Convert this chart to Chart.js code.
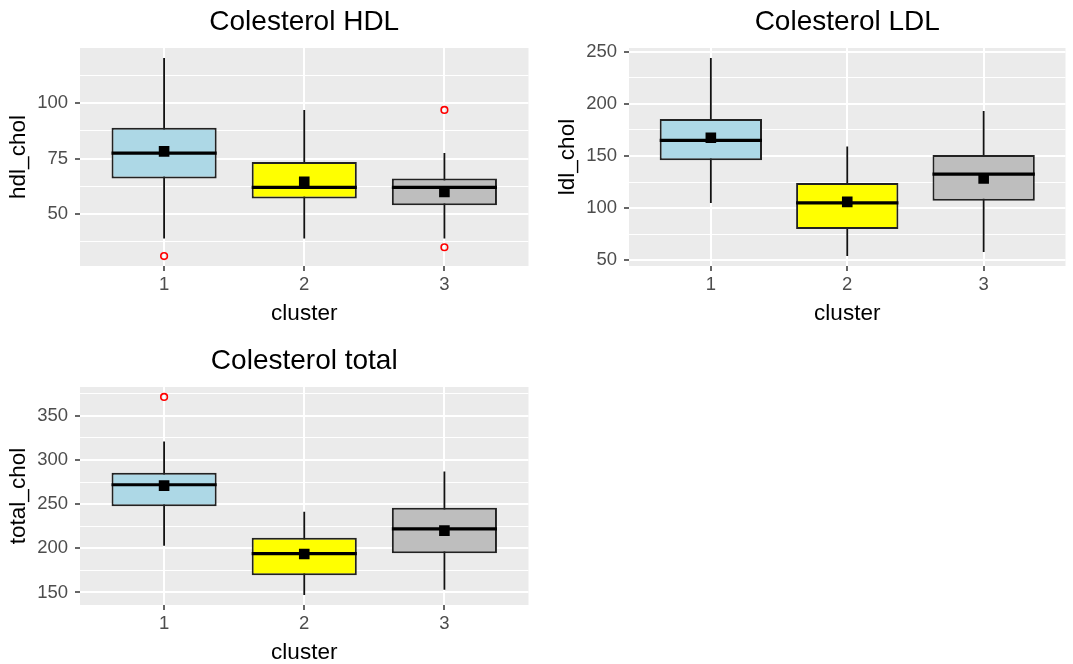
<!DOCTYPE html>
<html>
<head>
<meta charset="utf-8">
<script src="https://cdn.jsdelivr.net/npm/chart.js@4.4.1/dist/chart.umd.min.js"></script>
<style>
  html, body { margin: 0; padding: 0; background: #ffffff; overflow: hidden; }
  body { width: 1073px; height: 664px; position: relative; }
  canvas { position: absolute; }
</style>
</head>
<body>
<canvas id="hdl" width="536" height="332" style="left:0px;top:0px"></canvas>
<canvas id="ldl" width="536" height="332" style="left:537px;top:0px"></canvas>
<canvas id="total" width="536" height="332" style="left:0px;top:339px"></canvas>
<script>
// Clusters on the x axis and their box fills
const clusters = [1, 2, 3];
const clusterColors = ['#ADD8E6', '#FFFF00', '#BEBEBE'];

// HDL cholesterol: whisker ends, quartiles, median, mean, outliers per cluster
const hdlLow = [39, 39, 39];
const hdlQ1 = [66, 57, 54];
const hdlMedian = [77.5, 62, 62];
const hdlQ3 = [89, 73.5, 66];
const hdlHigh = [120.5, 97, 77.5];
const hdlMean = [78.3, 64.5, 60];
const hdlOutliers = [[31], [], [97, 35]];
const hdlTicks = [50, 75, 100];

// LDL cholesterol
const ldlLow = [105, 54, 58];
const ldlQ1 = [146, 80, 107];
const ldlMedian = [165, 105, 132.5];
const ldlQ3 = [185.5, 124, 151];
const ldlHigh = [244, 159, 193];
const ldlMean = [167.5, 106, 128.5];
const ldlOutliers = [[], [], []];
const ldlTicks = [50, 100, 150, 200, 250];

// Total cholesterol
const totalLow = [203, 147, 153];
const totalQ1 = [247.5, 169.5, 194.5];
const totalMedian = [272, 194, 222];
const totalQ3 = [285.5, 212, 246];
const totalHigh = [321, 241.5, 287];
const totalMean = [271, 193.5, 220];
const totalOutliers = [[371.5], [], []];
const totalTicks = [150, 200, 250, 300, 350];

const FONT = "'Liberation Sans', Arial, sans-serif";
const BOX_WIDTH = 0.75;

// Grey panel behind the grid
const panelBackground = {
  id: 'panelBackground',
  beforeDraw(chart) {
    const { ctx, chartArea: a } = chart;
    ctx.save();
    ctx.fillStyle = '#EBEBEB';
    ctx.fillRect(a.left, a.top, a.right - a.left, a.bottom - a.top);
    ctx.restore();
  }
};

function boxplotChart(canvasId, s) {
  const all = [...s.low, ...s.high, ...s.outliers.flat()];
  const lo = Math.min(...all), hi = Math.max(...all);
  const ext = (hi - lo) * 0.05;
  const yMin = lo - ext, yMax = hi + ext;

  // major gridlines at the labelled ticks, minor ones halfway between
  const step = s.ticks[1] - s.ticks[0];
  const gridValues = [];
  for (let v = s.ticks[0] - step / 2; v <= yMax; v += step / 2) {
    if (v >= yMin) gridValues.push(v);
  }
  const isMajor = v => s.ticks.includes(v);

  const half = BOX_WIDTH / 2;
  const whiskers = [], medians = [], outlierPts = [];
  clusters.forEach((c, i) => {
    whiskers.push({ x: c, y: s.low[i] }, { x: c, y: s.high[i] }, { x: c + 0.5, y: null });
    medians.push({ x: c - half, y: s.median[i] }, { x: c + half, y: s.median[i] }, { x: c + 0.5, y: null });
    s.outliers[i].forEach(v => outlierPts.push({ x: c, y: v }));
  });

  return new Chart(document.getElementById(canvasId), {
    type: 'bar',
    data: {
      datasets: [
        {
          type: 'line', data: whiskers, borderColor: '#111111', borderWidth: 1.8,
          pointRadius: 0, spanGaps: false, borderCapStyle: 'butt', order: 5
        },
        {
          type: 'bar',
          data: clusters.map((c, i) => ({ x: c, y: [s.q1[i], s.q3[i]] })),
          backgroundColor: clusterColors, borderColor: '#222222', borderWidth: 2,
          borderSkipped: false, barPercentage: BOX_WIDTH, categoryPercentage: 1, order: 4
        },
        {
          type: 'line', data: medians, borderColor: '#000000', borderWidth: 3.2,
          pointRadius: 0, spanGaps: false, borderCapStyle: 'butt', order: 3
        },
        {
          type: 'scatter', data: clusters.map((c, i) => ({ x: c, y: s.mean[i] })),
          pointStyle: 'rect', pointRadius: 7.5, backgroundColor: '#000000', borderWidth: 0, order: 2
        },
        {
          type: 'scatter', data: outlierPts, pointStyle: 'circle', pointRadius: 3.3,
          borderColor: '#FF0000', backgroundColor: 'rgba(0,0,0,0)', borderWidth: 1.6, order: 1
        }
      ]
    },
    options: {
      responsive: false,
      animation: false,
      events: [],
      layout: { padding: { left: s.padLeft, right: 3, top: 0, bottom: 0 } },
      plugins: {
        legend: { display: false },
        tooltip: { enabled: false },
        title: {
          display: true, text: s.title, fullSize: false, color: '#000000',
          font: { family: FONT, size: 28, weight: 'normal' },
          padding: { top: 5, bottom: 9.4 }
        }
      },
      scales: {
        x: {
          type: 'linear',
          min: clusters[0] - 0.6,
          max: clusters[clusters.length - 1] + 0.6,
          offset: false,
          afterBuildTicks: sc => { sc.ticks = clusters.map(v => ({ value: v })); },
          afterFit: sc => { sc.height = 66; },
          ticks: {
            autoSkip: false, maxRotation: 0, padding: 3, color: '#4D4D4D',
            font: { family: FONT, size: 18.5 }, callback: v => String(v)
          },
          grid: {
            offset: false, color: '#FFFFFF', lineWidth: 2,
            tickColor: '#333333', tickWidth: 1.5, tickLength: 5
          },
          border: { display: false },
          title: {
            display: true, text: 'cluster', color: '#000000',
            font: { family: FONT, size: 22.5 }, padding: { top: 0, bottom: 5 }
          }
        },
        y: {
          type: 'linear', min: yMin, max: yMax,
          afterBuildTicks: sc => { sc.ticks = gridValues.map(v => ({ value: v })); },
          afterFit: sc => { sc.width = 80; },
          ticks: {
            autoSkip: false, padding: 7, color: '#4D4D4D',
            font: { family: FONT, size: 18.5 },
            callback: v => isMajor(v) ? String(v) : ''
          },
          grid: {
            color: '#FFFFFF',
            lineWidth: ctx => isMajor(ctx.tick.value) ? 2 : 1,
            tickColor: ctx => isMajor(ctx.tick.value) ? '#333333' : 'rgba(0,0,0,0)',
            tickWidth: 1.5, tickLength: 5
          },
          border: { display: false },
          title: {
            display: true, text: s.yTitle, color: '#000000',
            font: { family: FONT, size: 22.5 }, padding: { top: 5.5, bottom: 0 }
          }
        }
      }
    },
    plugins: [panelBackground]
  });
}

boxplotChart('hdl', {
  title: 'Colesterol HDL', yTitle: 'hdl_chol', padLeft: 0,
  low: hdlLow, q1: hdlQ1, median: hdlMedian, q3: hdlQ3, high: hdlHigh,
  mean: hdlMean, outliers: hdlOutliers, ticks: hdlTicks
});
boxplotChart('ldl', {
  title: 'Colesterol LDL', yTitle: 'ldl_chol', padLeft: 12,
  low: ldlLow, q1: ldlQ1, median: ldlMedian, q3: ldlQ3, high: ldlHigh,
  mean: ldlMean, outliers: ldlOutliers, ticks: ldlTicks
});
boxplotChart('total', {
  title: 'Colesterol total', yTitle: 'total_chol', padLeft: 0,
  low: totalLow, q1: totalQ1, median: totalMedian, q3: totalQ3, high: totalHigh,
  mean: totalMean, outliers: totalOutliers, ticks: totalTicks
});
</script>
</body>
</html>
